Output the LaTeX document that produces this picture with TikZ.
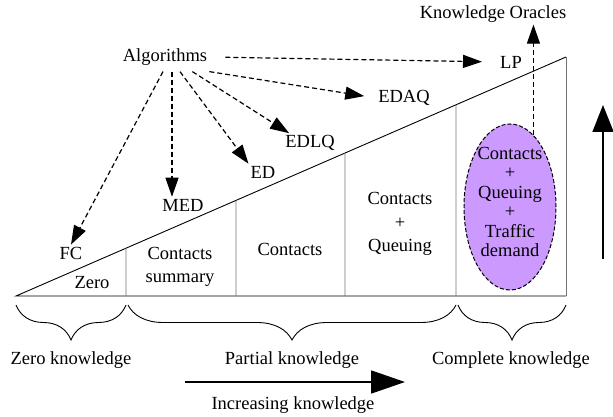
\documentclass[tikz,border=0pt]{standalone}
\usepackage{fontspec}
\setmainfont{Liberation Serif}
\usepackage{xcolor}
\usetikzlibrary{arrows.meta,positioning,shapes,calc,decorations.pathreplacing}
\definecolor{oraclefill}{HTML}{CC99FF}

\begin{document}
\begin{tikzpicture}[x=1pt, y=-1pt,
  every node/.style={font=\fontsize{18.5}{23.5}\selectfont, inner sep=2pt, align=center},
  algarrow/.style={line width=1.2pt, dash pattern=on 5pt off 3pt, -{Triangle[length=19pt,width=13pt]}},
  bigarrow/.style={line width=1.8pt, -{Triangle[length=34pt,width=23pt]}},
  uparrow/.style={line width=1.8pt, -{Triangle[length=27pt,width=21pt]}},
  divider/.style={black!55, line width=0.9pt},
  kbrace/.style={decorate, decoration={brace, mirror, amplitude=35pt}, line width=0.9pt}]
\useasboundingbox (0,0) rectangle (613,417);

% Knowledge wedge
\coordinate (L) at (16,296);
\coordinate (R) at (566,296);
\coordinate (T) at (566,57);
\draw[line width=0.9pt] (T) -- (L) -- (R);
\draw[divider] (R) -- (T);
\foreach \x in {126,236,345,456}
  \draw[divider] (\x,296) -- ($(L)!{(\x-16)/550}!(T)$);

% Cell contents
\node (zero) at (92,283) {Zero};
\node (summary) at (180,267) {Contacts\\summary};
\node (contacts) at (290,249) {Contacts};
\node (cq) at (400,224) {Contacts\\+\\Queuing};
\node[ellipse, draw, dash pattern=on 4pt off 2pt, line width=1pt, fill=oraclefill,
      inner sep=0pt, minimum width=92pt, minimum height=166pt] (oracle) at (510,207) {};
\node[font=\fontsize{18.5}{19.5}\selectfont] (oracletext) at ([yshift=5pt]oracle.center)
  {Contacts\\+\\Queuing\\+\\Traffic\\demand};

% Algorithms
\node[inner ysep=6pt] (alg) at (165,57) {Algorithms};
\node (fc) at (71,253) {FC};
\node (med) at (183,205) {MED};
\node (ed) at (263,172) {ED};
\node (edlq) at (310,143) {EDLQ};
\node (edaq) at (404,98) {EDAQ};
\node (lp) at (511,62) {LP};
\node (oracles) at (493,14) {Knowledge Oracles};

\draw[algarrow] ([xshift=-2pt]alg.south) -- (fc.north);
\draw[algarrow] ([xshift=7pt]alg.south) -- ([xshift=-11pt]med.north);
\draw[algarrow] ([xshift=15pt]alg.south) -- (ed.north west);
\draw[algarrow] ([xshift=-17pt]alg.south east) -- ([xshift=6pt]edlq.north west);
\draw[algarrow, shorten >=12pt] (alg.south east) -- (edaq.west);
\draw[algarrow, shorten <=16pt, shorten >=16pt] (alg.east) -- (lp.west);
\draw[algarrow] (oracle.72.5) -- (oracle.72.5 |- oracles.south);

% Knowledge classes
\draw[kbrace] (16,305) -- (126,305);
\draw[kbrace] (128,305) -- (456,305);
\draw[kbrace] (458,305) -- (566,305);
\node (zk) at (71,360) {Zero knowledge};
\node (pk) at (292,360) {Partial knowledge};
\node (ck) at (511,360) {Complete knowledge};

% Increasing knowledge
\coordinate (incs) at (185,382);
\coordinate (ince) at (405,382);
\draw[bigarrow] (incs) -- (ince);
\node (inc) at (293,405) {Increasing knowledge};
\coordinate (ups) at (603,259);
\coordinate (upe) at (603,105);
\draw[uparrow] (ups) -- (upe);

\end{tikzpicture}
\end{document}
